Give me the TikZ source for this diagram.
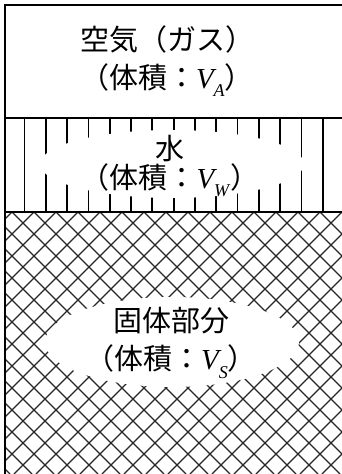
\documentclass[tikz,border=0pt]{standalone}
\usepackage{fontspec}
\setmainfont{Liberation Serif}
\newfontfamily\jpfont{Noto Sans CJK JP}
\newcommand{\vol}[1]{\textit{V}\kern-3pt\raisebox{-0.3em}{\fontsize{18}{18}\selectfont\textit{#1}}}
\begin{document}
\begin{tikzpicture}[x=1pt, y=-1pt,
  txt/.style={font=\fontsize{29}{38}\selectfont, align=center, inner sep=0pt},
  hatch/.style={line width=1.3pt, black!85},
  rule/.style={line width=1.8pt}]
\useasboundingbox (0,0) rectangle (342,474);

% water: vertical lines
\begin{scope}
\clip (5,118) rectangle (342,212);
\foreach \k in {0,...,14}
  \draw[line width=1.8pt] (24.5+21.3*\k,118) -- (24.5+21.3*\k,212);
\end{scope}
\fill[white] (172,164) ellipse (132 and 34);

% solid: cross hatch
\begin{scope}
\clip (5,212) rectangle (342,474);
\foreach \k in {-13,...,15}
  \draw[hatch] (12+22*\k,212) -- (274+22*\k,474);
\foreach \k in {0,...,27}
  \draw[hatch] (12+22*\k,212) -- (-250+22*\k,474);
\end{scope}
\fill[white] (172,342) ellipse (127 and 45);

% frame
\draw[rule] (5,474) -- (5,5) -- (342,5);
\draw[rule] (5,118) -- (342,118);
\draw[rule] (5,212) -- (342,212);

% labels
\node[txt] (air) at (167,61) {{\jpfont 空気（ガス）}\\{\jpfont （体積：}\vol{A}{\jpfont ）}};
\node[txt] (water) at (170,166) {{\jpfont 水}\\[-9pt]{\jpfont （体積：}\vol{W}{\jpfont ）}};
\node[txt] (solid) at (171,343) {{\jpfont 固体部分}\\{\jpfont （体積：}\vol{S}{\jpfont ）}};
\end{tikzpicture}
\end{document}
